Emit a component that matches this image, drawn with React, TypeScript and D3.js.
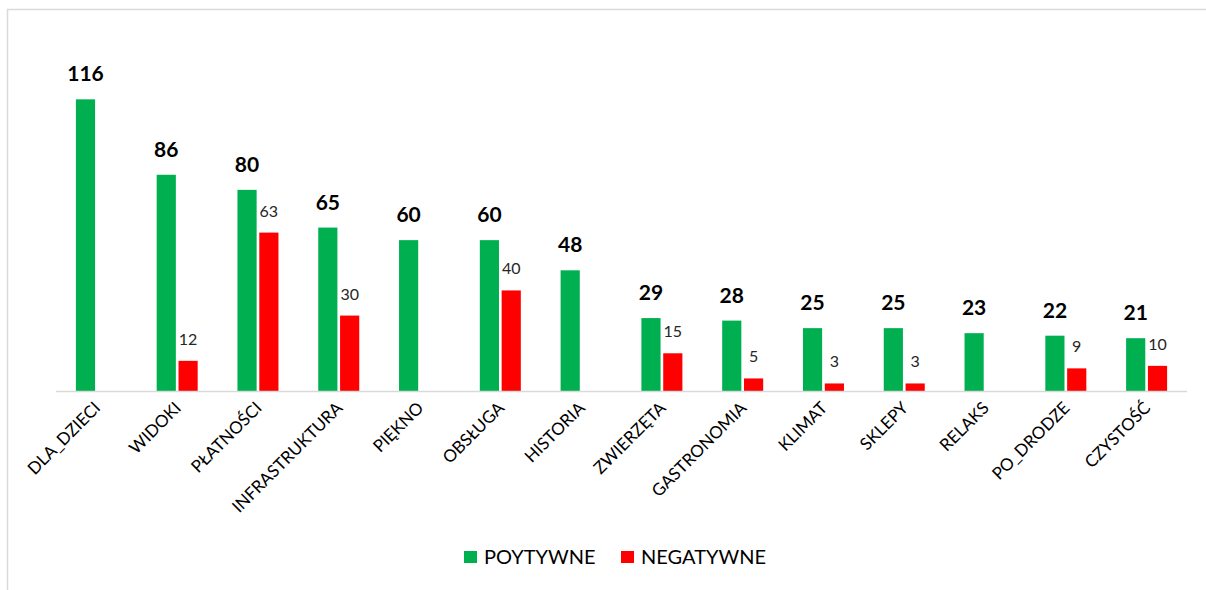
import * as d3 from "d3";

const categories = [
  "DLA_DZIECI",
  "WIDOKI",
  "PŁATNOŚCI",
  "INFRASTRUKTURA",
  "PIĘKNO",
  "OBSŁUGA",
  "HISTORIA",
  "ZWIERZĘTA",
  "GASTRONOMIA",
  "KLIMAT",
  "SKLEPY",
  "RELAKS",
  "PO_DRODZE",
  "CZYSTOŚĆ",
];
const positive = [116, 86, 80, 65, 60, 60, 48, 29, 28, 25, 25, 23, 22, 21];
const negative = [null, 12, 63, 30, null, 40, null, 15, 5, 3, 3, null, 9, 10];
const seriesNames = ["POYTYWNE", "NEGATYWNE"];

const W = 1206;
const H = 590;
const PLOT = { left: 56, right: 1187, baseline: 391, top: 39 };
const GREEN = "#00B050";
const RED = "#FF0000";
const FONT = "Lato, 'Open Sans', sans-serif";

export default function App() {
  const x = d3
    .scaleBand<string>()
    .domain(categories)
    .range([PLOT.left, PLOT.right])
    .padding(0);
  const y = d3
    .scaleLinear()
    .domain([0, 140])
    .range([PLOT.baseline, PLOT.top]);

  const barW = 18;
  const gap = 5;
  const inner = d3
    .scaleBand<number>()
    .domain([0, 1])
    .range([0, barW * 2 + gap])
    .paddingInner(gap / (barW * 2 + gap));

  return (
    <>
      <style>{"body{margin:0}"}</style>
      <svg width={W} height={H} style={{ display: "block", fontFamily: FONT }}>
        <rect x={0} y={0} width={W} height={H} fill="#fff" />
        {/* chart border (only top & left visible) */}
        <rect
          x={7.5}
          y={9.5}
          width={W + 20}
          height={H + 20}
          fill="none"
          stroke="#d9d9d9"
          strokeWidth={1.5}
        />

        {categories.map((c, i) => {
          const cx = x(c)! + x.bandwidth() / 2;
          const g0 = cx - (barW * 2 + gap) / 2;
          const p = positive[i];
          const n = negative[i];
          return (
            <g key={c}>
              <rect
                x={g0 + inner(0)!}
                y={y(p)}
                width={inner.bandwidth()}
                height={y(0) - y(p)}
                fill={GREEN}
              />
              <text
                x={g0 + inner(0)! + inner.bandwidth() / 2}
                y={y(p) - 18}
                textAnchor="middle"
                fontSize={21}
                fontWeight="bold"
                fill="#000"
              >
                {p}
              </text>
              {n != null && (
                <>
                  <rect
                    x={g0 + inner(1)!}
                    y={y(n)}
                    width={inner.bandwidth()}
                    height={y(0) - y(n)}
                    fill={RED}
                  />
                  <text
                    x={g0 + inner(1)! + inner.bandwidth() / 2}
                    y={y(n) - 16}
                    textAnchor="middle"
                    fontSize={16}
                    fill="#262626"
                  >
                    {n}
                  </text>
                </>
              )}
              <text
                transform={`translate(${cx + 5},${PLOT.baseline + 18}) rotate(-45)`}
                textAnchor="end"
                fontSize={17}
                fill="#000"
              >
                {c}
              </text>
            </g>
          );
        })}

        {/* category axis */}
        <line
          x1={PLOT.left}
          x2={PLOT.right}
          y1={PLOT.baseline + 0.5}
          y2={PLOT.baseline + 0.5}
          stroke="#d9d9d9"
          strokeWidth={1.5}
        />

        {/* legend */}
        <g>
          <rect x={464} y={551} width={13} height={12} fill={GREEN} />
          <text x={484} y={564} fontSize={20} fill="#000">
            {seriesNames[0]}
          </text>
          <rect x={621} y={551} width={13} height={12} fill={RED} />
          <text x={641} y={564} fontSize={20} fill="#000">
            {seriesNames[1]}
          </text>
        </g>
      </svg>
    </>
  );
}
